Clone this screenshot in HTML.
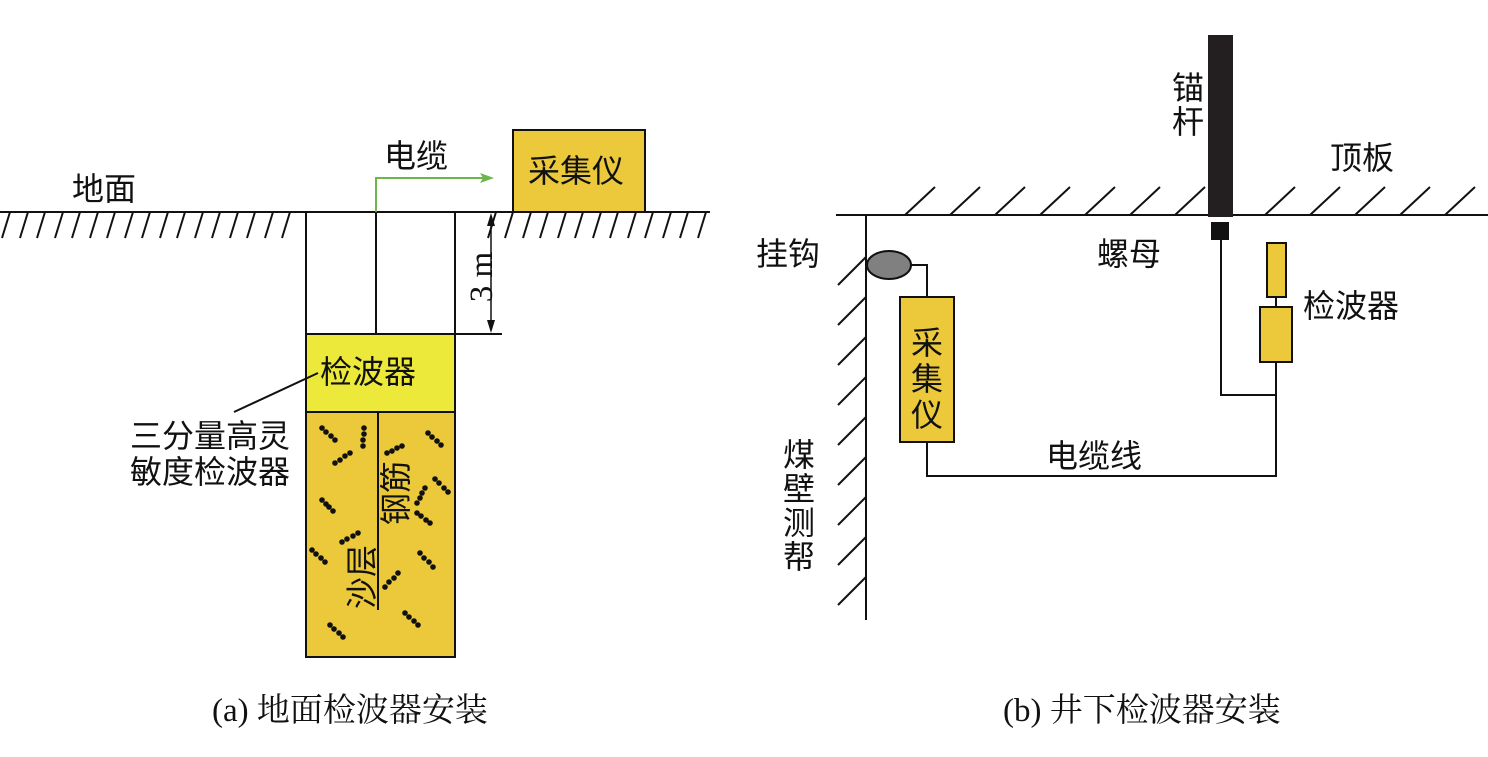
<!DOCTYPE html>
<html><head><meta charset="utf-8"><style>
body{margin:0;background:#fff}
svg{display:block}
text{font-family:"Liberation Sans","Noto Sans CJK SC",sans-serif;font-size:32px;fill:#111}
.s{font-family:"Liberation Serif","Noto Serif CJK SC",serif;font-size:33px}
</style></head><body>
<svg width="1488" height="757" viewBox="0 0 1488 757" xmlns="http://www.w3.org/2000/svg">
<g stroke="#111" stroke-width="2" fill="none">
<line x1="0" y1="212" x2="710" y2="212"/>
<path d="M2 238 L10 212 M20 238 L28 212 M37 238 L45 212 M55 238 L63 212 M72 238 L80 212 M90 238 L98 212 M107 238 L115 212 M125 238 L133 212 M142 238 L150 212 M160 238 L168 212 M177 238 L185 212 M195 238 L203 212 M212 238 L220 212 M230 238 L238 212 M247 238 L255 212 M265 238 L273 212 M282 238 L290 212"/>
<path d="M488 238 L496 212 M505 238 L513 212 M523 238 L531 212 M540 238 L548 212 M558 238 L566 212 M575 238 L583 212 M593 238 L601 212 M610 238 L618 212 M628 238 L636 212 M645 238 L653 212 M663 238 L671 212 M680 238 L688 212 M698 238 L706 212"/>
<line x1="306" y1="212" x2="306" y2="334"/>
<line x1="455" y1="212" x2="455" y2="334"/>
<line x1="376" y1="212" x2="376" y2="334"/>
<line x1="455" y1="334" x2="502" y2="334"/>
<line x1="491" y1="222" x2="491" y2="324" stroke-width="1.5"/>
</g>
<path d="M491 213 L487 226 L495 226Z M491 333 L487 320 L495 320Z" fill="#111"/>
<rect x="306" y="334" width="149" height="78" fill="#ece93a" stroke="#111" stroke-width="2"/>
<rect x="306" y="412" width="149" height="245" fill="#ecc93a" stroke="#111" stroke-width="2"/>
<line x1="378" y1="412" x2="378" y2="610" stroke="#111" stroke-width="2"/>
<rect x="513" y="130" width="132" height="82" fill="#ecc93a" stroke="#111" stroke-width="2"/>
<polyline points="376,212 376,178 485,178" fill="none" stroke="#6ab74a" stroke-width="2"/>
<path d="M494 178 L480 173 L483 178 L480 183Z" fill="#6ab74a"/>
<line x1="318" y1="373" x2="234" y2="412" stroke="#111" stroke-width="2"/>
<text x="320" y="383">检波器</text>
<text x="528" y="182">采集仪</text>
<text x="384" y="167">电缆</text>
<text x="72" y="200">地面</text>
<text x="130" y="447">三分量高灵</text>
<text x="130" y="483">敏度检波器</text>
<text class="s" transform="translate(492,277) rotate(-90)" text-anchor="middle" font-size="32">3 m</text>
<text transform="translate(373,577) rotate(-90)" text-anchor="middle" font-size="32">沙层</text>
<text transform="translate(407,493) rotate(-90)" text-anchor="middle" font-size="32">钢筋</text>
<text class="s" x="212" y="721">(a) 地面检波器安装</text>

<g stroke="#111" stroke-width="2" fill="none">
<line x1="836" y1="215" x2="1488" y2="215"/>
<path d="M905 215 L935 187 M950 215 L980 187 M995 215 L1025 187 M1040 215 L1070 187 M1085 215 L1115 187 M1130 215 L1160 187 M1175 215 L1205 187 M1265 215 L1295 187 M1310 215 L1340 187 M1355 215 L1385 187 M1400 215 L1430 187 M1445 215 L1475 187"/>
<line x1="866" y1="215" x2="866" y2="620"/>
<path d="M838 285 L866 257 M838 325 L866 297 M838 365 L866 337 M838 405 L866 377 M838 445 L866 417 M838 485 L866 457 M838 525 L866 497 M838 565 L866 537 M838 605 L866 577"/>
<polyline points="1221,240 1221,395 1276,395"/>
<line x1="1276" y1="297" x2="1276" y2="307"/>
<polyline points="1276,362 1276,476 927,476 927,442"/>
<polyline points="911,265 927,265 927,297"/>
</g>
<rect x="1208" y="35" width="25" height="182" fill="#231f20"/>
<rect x="1211" y="222" width="18" height="18" fill="#111"/>
<rect x="1267" y="243" width="19" height="54" fill="#ecc93a" stroke="#111" stroke-width="2"/>
<rect x="1260" y="307" width="32" height="55" fill="#ecc93a" stroke="#111" stroke-width="2"/>
<rect x="900" y="297" width="54" height="145" fill="#ecc93a" stroke="#111" stroke-width="2"/>
<ellipse cx="889" cy="265" rx="22" ry="14" fill="#808080" stroke="#111" stroke-width="2"/>
<text x="911" y="354">采</text>
<text x="911" y="390">集</text>
<text x="911" y="426">仪</text>
<text x="1172" y="99">锚</text>
<text x="1172" y="133">杆</text>
<text x="1330" y="169">顶板</text>
<text x="1097" y="265">螺母</text>
<text x="1303" y="317">检波器</text>
<text x="756" y="265">挂钩</text>
<text x="1046" y="467">电缆线</text>
<text x="783" y="466">煤</text>
<text x="783" y="500">壁</text>
<text x="783" y="534">测</text>
<text x="783" y="568">帮</text>
<text class="s" x="1003" y="721">(b) 井下检波器安装</text>
<g fill="#111">
<circle cx="322" cy="428" r="2.8"/><circle cx="326" cy="432" r="2.8"/><circle cx="331" cy="436" r="2.8"/><circle cx="335" cy="440" r="2.8"/>
<circle cx="364" cy="428" r="2.8"/><circle cx="364" cy="434" r="2.8"/><circle cx="363" cy="440" r="2.8"/><circle cx="363" cy="446" r="2.8"/>
<circle cx="335" cy="463" r="2.8"/><circle cx="340" cy="460" r="2.8"/><circle cx="345" cy="456" r="2.8"/><circle cx="350" cy="453" r="2.8"/>
<circle cx="428" cy="433" r="2.8"/><circle cx="432" cy="437" r="2.8"/><circle cx="437" cy="441" r="2.8"/><circle cx="441" cy="445" r="2.8"/>
<circle cx="387" cy="453" r="2.8"/><circle cx="392" cy="451" r="2.8"/><circle cx="397" cy="448" r="2.8"/><circle cx="402" cy="446" r="2.8"/>
<circle cx="435" cy="479" r="2.8"/><circle cx="439" cy="483" r="2.8"/><circle cx="444" cy="488" r="2.8"/><circle cx="448" cy="492" r="2.8"/>
<circle cx="322" cy="500" r="2.8"/><circle cx="326" cy="504" r="2.8"/><circle cx="329" cy="507" r="2.8"/><circle cx="333" cy="511" r="2.8"/>
<circle cx="425" cy="488" r="2.8"/><circle cx="422" cy="493" r="2.8"/><circle cx="420" cy="498" r="2.8"/><circle cx="417" cy="503" r="2.8"/>
<circle cx="417" cy="513" r="2.8"/><circle cx="421" cy="516" r="2.8"/><circle cx="426" cy="520" r="2.8"/><circle cx="430" cy="523" r="2.8"/>
<circle cx="342" cy="542" r="2.8"/><circle cx="347" cy="539" r="2.8"/><circle cx="353" cy="536" r="2.8"/><circle cx="358" cy="533" r="2.8"/>
<circle cx="312" cy="550" r="2.8"/><circle cx="316" cy="554" r="2.8"/><circle cx="321" cy="558" r="2.8"/><circle cx="325" cy="562" r="2.8"/>
<circle cx="420" cy="553" r="2.8"/><circle cx="424" cy="558" r="2.8"/><circle cx="429" cy="562" r="2.8"/><circle cx="433" cy="567" r="2.8"/>
<circle cx="385" cy="587" r="2.8"/><circle cx="389" cy="582" r="2.8"/><circle cx="394" cy="578" r="2.8"/><circle cx="398" cy="573" r="2.8"/>
<circle cx="405" cy="613" r="2.8"/><circle cx="409" cy="617" r="2.8"/><circle cx="414" cy="621" r="2.8"/><circle cx="418" cy="625" r="2.8"/>
<circle cx="330" cy="625" r="2.8"/><circle cx="334" cy="629" r="2.8"/><circle cx="339" cy="633" r="2.8"/><circle cx="343" cy="637" r="2.8"/>
</g>
</svg>
</body></html>
